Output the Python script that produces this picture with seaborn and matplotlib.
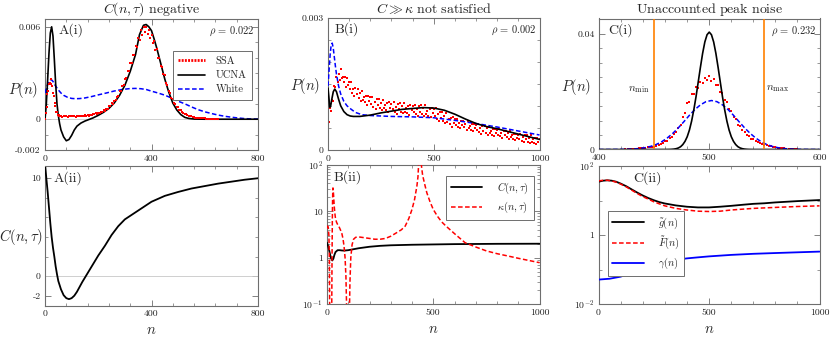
import numpy as np
import pandas as pd
import matplotlib
matplotlib.use("Agg")
import matplotlib.pyplot as plt
import seaborn as sns
from matplotlib.lines import Line2D
from matplotlib.ticker import FixedLocator, FixedFormatter, MultipleLocator, LogLocator, NullFormatter

# ---------------- data (P(n) values in units of 1e-3) ----------------
# Panel A(i)
a_ucna_n = [0,5,10,15,20,25,30,35,40,45,50,55,60,70,80,90,100,110,120,135,150,165,180,200,220,240,260,280,300,320,
            340,355,370,380,390,400,410,420,435,450,465,480,495,510,525,540,560,600,700,800]
a_ucna_p = [0,1.0,2.6,4.3,5.6,6.0,5.4,3.9,2.3,1.0,0.25,-0.3,-0.7,-1.15,-1.4,-1.32,-1.05,-0.7,-0.45,-0.25,
            -0.12,-0.02,0.08,0.25,0.45,0.7,1.05,1.55,2.2,3.1,4.2,5.5,6.1,6.15,6.0,5.75,5.2,4.6,3.6,2.6,
            1.75,1.05,0.6,0.3,0.12,0.05,0.01,0,0,0]
a_white_n = [0,5,10,15,20,25,30,40,50,60,70,85,100,115,130,150,175,200,230,260,290,320,340,360,380,400,425,450,475,500,
             525,550,575,600,625,650,675,700,725,750,775,800]
a_white_p = [1.7,2.0,2.25,2.45,2.55,2.55,2.45,2.15,1.9,1.7,1.55,1.42,1.35,1.33,1.34,1.38,1.47,1.58,1.7,1.83,
             1.93,1.99,2.0,1.98,1.93,1.82,1.7,1.56,1.38,1.17,1.0,0.8,0.62,0.48,0.37,0.27,0.19,0.13,0.08,0.04,0.02,0.01]
a_ssa_n = list(range(0, 60, 3)) + list(range(60, 655, 5))
a_ssa_p = [0.02,0.38,0.82,1.62,1.80,2.30,2.32,2.62,2.30,2.18,1.68,1.52,1.03,0.86,0.50,0.44,0.27,0.28,0.19,0.22,
           .22,.17,.23,.19,.21,.16,.22,.20,.24,.18,.21,.17,.22,.19,.24,.18,.23,.20,.26,.21,
           .27,.24,.30,.27,.35,.31,.39,.35,.43,.39,.48,.46,.57,.54,.68,.67,.84,.85,1.02,1.01,
           1.21,1.22,1.46,1.50,1.82,1.86,2.16,2.20,2.60,2.66,3.12,3.15,3.64,3.62,4.16,4.14,4.75,4.68,5.30,5.12,
           5.78,5.50,6.02,5.64,6.00,5.55,5.80,5.28,5.48,4.95,5.06,4.50,4.55,3.97,3.95,3.43,3.40,2.96,2.84,2.37,
           2.22,1.82,1.70,1.40,1.30,1.04,.97,.80,.77,.61,.58,.46,.42,.33,.32,.25,.24,.19,.18,.14,
           .14,.11,.11,.085,.085,.07,.072,.058,.055,.043,.042,.035,.033,.027,.025,.019,.017,.012,.01]

# Panel A(ii)
a_c_n = [0,5,10,15,20,25,30,35,40,45,50,60,70,80,90,100,110,120,130,140,150,160,180,200,225,250,275,300,350,400,
         450,500,550,600,650,700,750,800]
a_c_v = [11.5,10.0,8.6,7.0,5.4,4.0,2.9,2.0,1.0,0.2,-0.5,-1.35,-1.95,-2.25,-2.35,-2.25,-2.0,-1.6,-1.1,-0.6,
         -0.15,0.3,1.2,2.1,3.1,4.2,5.1,5.8,6.7,7.6,8.2,8.6,8.95,9.2,9.45,9.65,9.85,10.0]

# Panel B(i)
b_ucna_n = [0,4,8,12,18,25,32,40,50,60,75,90,105,120,150,200,250,300,350,400,450,500,550,600,650,700,750,800,850,900,950,1000]
b_ucna_p = [1.4,1.2,0.97,0.98,1.15,1.32,1.38,1.32,1.15,1.0,0.87,0.8,0.77,0.76,0.76,0.79,0.84,0.88,0.92,0.94,
            0.96,0.95,0.9,0.81,0.70,0.6,0.53,0.48,0.42,0.36,0.3,0.24]
b_white_n = [0,5,10,15,20,25,30,35,40,50,60,75,90,110,130,160,200,300,400,500,600,700,800,900,1000]
b_white_p = [1.45,1.8,2.15,2.38,2.42,2.3,2.1,1.9,1.72,1.45,1.27,1.1,1.0,0.92,0.85,0.8,0.78,0.76,0.75,0.73,
             0.67,0.6,0.52,0.43,0.34]
b_ssa_n = list(range(0, 1005, 5))
b_ssa_p = [.61,.63,.94,.88,1.14,1.12,1.45,1.42,1.66,1.54,1.72,1.59,1.83,1.62,1.66,1.53,1.65,1.43,1.62,1.47,1.54,
           1.39,1.53,1.29,1.39,1.22,1.41,1.27,1.39,1.18,1.29,1.12,1.34,1.14,1.19,1.08,1.22,1.02,1.23,1.10,1.19,
           1.05,1.21,.98,1.09,.93,1.15,1.02,1.15,.95,1.07,.91,1.14,.94,1.01,.90,1.06,.86,1.08,.95,1.05,
           .92,1.08,.86,.98,.82,1.04,.92,1.06,.86,.99,.83,1.07,.87,.94,.84,1.00,.80,1.02,.90,1.00,
           .86,1.03,.81,.93,.77,.99,.87,1.01,.81,.94,.78,1.01,.82,.88,.78,.93,.74,.95,.83,.92,
           .78,.94,.71,.82,.66,.86,.73,.86,.66,.78,.61,.84,.64,.70,.59,.73,.53,.74,.61,.70,
           .57,.71,.52,.62,.49,.65,.56,.66,.51,.60,.46,.65,.49,.55,.46,.58,.42,.59,.49,.56,
           .45,.59,.40,.50,.37,.54,.44,.55,.39,.49,.35,.53,.38,.43,.35,.47,.31,.48,.38,.45,
           .35,.47,.31,.39,.28,.43,.34,.43,.29,.38,.26,.42,.29,.33,.25,.36,.22,.37,.28,.35,
           .25,.37,.21,.29,.18,.33,.24,.33,.19,.28,.16,.33,.19,.24,.16,.27,.13,.28,.19,.26]

# Panel B(ii)
b_c_n = [0,5,10,15,20,25,30,35,40,50,60,70,80,100,150,200,250,300,400,500,600,800,1000]
b_c_v = [2.1,1.8,1.45,1.15,0.95,0.87,0.95,1.15,1.32,1.45,1.45,1.43,1.42,1.45,1.6,1.72,1.8,1.85,1.9,1.93,1.96,1.99,2.0]
b_k_n = [0,3,6,9,11,12,13,14,20,22,23,24,25,26,27,28,29,31,34,37,40,45,50,55,60,65,70,75,80,85,
         89,92,94,95,104,105,108,112,118,125,135,150,175,200,225,250,275,300,325,350,
         368,385,400,412,423,428,431,434,440,444,450,460,470,485,500,520,540,560,600,650,
         700,750,800,850,900,950,1000]
b_k_v = [4.5,4.8,4.5,3.0,1.0,0.2,0.05,-1,-1,0.05,0.3,1.5,6,15,25,32,30,22,13,9.0,7.0,5.8,5.2,4.8,4.3,3.8,3.3,2.6,1.8,1.0,
         0.4,0.1,0.05,-1,-1,0.05,0.3,1.0,1.9,2.5,2.75,2.8,2.7,2.6,2.5,2.5,2.6,2.9,3.4,4.0,
         4.8,7.0,11,18,35,55,100,200,200,100,60,38,25,16,11,7.8,5.9,4.8,3.3,2.1,
         1.7,1.4,1.22,1.09,0.97,0.87,0.78]

# Panel C(i)
c_ucna_n = [400,460] + list(range(464, 538, 2)) + [540,600]
c_ucna_p = [0,0,.03,.07,.14,.28,.53,.96,1.7,2.8,4.4,6.7,9.8,13.7,18.2,23.3,28.4,33.2,37.1,39.6,40.5,
            39.6,37.1,33.2,28.4,23.3,18.2,13.7,9.8,6.7,4.4,2.8,1.7,.96,.53,.28,.14,.07,.03,0,0]
c_white_n = [400,412,422,432] + list(range(437, 572, 5)) + [572,582,592,600]
c_white_p = [0,.01,.05,.2,.37,.65,1.09,1.75,2.7,4.0,5.6,7.5,9.6,11.8,13.8,15.4,16.5,16.9,16.5,15.4,13.8,11.8,
             9.6,7.5,5.6,4.0,2.7,1.75,1.09,.65,.37,.2,.05,.01,0]
c_ssa_n = list(range(424, 582, 2))
c_ssa_p = [.12,.10,.19,.17,.30,.29,.45,.42,.58,.54,.75,.71,.98,.96,1.36,1.40,1.98,2.12,2.86,3.00,
           3.80,4.20,5.45,5.95,7.55,8.45,11.2,12.7,15.9,16.5,19.3,19.3,21.7,21.3,23.4,22.8,24.8,24.0,25.2,23.7,
           24.3,22.2,22.2,19.8,19.6,17.0,16.4,14.0,13.4,11.1,10.5,8.6,8.1,6.6,6.1,4.9,4.6,3.7,3.55,2.85,
           2.72,2.15,2.0,1.52,1.47,1.14,1.07,.84,.79,.62,.59,.45,.43,.33,.31,.22,.20,.14,.12]
c_nmin, c_nmax = 450, 550

# Panel C(ii)
c2_n = [0,20,40,60,80,100,125,150,175,200,225,250,275,300,350,400,450,500,550,600,650,700,750,800,900,1000]
c2_g = [35,37.5,38.5,37.5,35,31,26,21,17,14,11.8,10.2,9.0,8.2,7.2,6.6,6.3,6.3,6.6,7.0,7.5,8.0,8.3,8.8,9.6,10.3]
c2_F = [37,38.5,38.5,37,34,30,25,20,16,13,11,9.2,8.0,7.0,5.9,5.3,4.9,4.8,4.9,5.3,5.6,5.9,6.1,6.3,6.7,7.0]
c2_gam_n = [0,50,100,150,200,250,300,350,400,450,500,600,700,800,900,1000]
c2_gam = [0.051,0.054,0.062,0.08,0.105,0.135,0.165,0.19,0.21,0.225,0.24,0.265,0.285,0.30,0.315,0.33]

titles = [r"$C(n,\tau)\ \mathrm{negative}$", r"$C \gg \kappa\ \mathrm{not\ satisfied}$",
          r"$\mathrm{Unaccounted\ peak\ noise}$"]
rhos = [r"$\rho\, =\, 0.022$", r"$\rho\, =\, 0.002$", r"$\rho\, =\, 0.232$"]

# ---------------- style ----------------
sns.set_theme(style="ticks")
plt.rcParams.update({
    "font.family": ["cmr10"],
    "mathtext.fontset": "cm",
    "axes.unicode_minus": False,
    "axes.formatter.use_mathtext": True,
    "axes.edgecolor": "#6e6e6e",
    "axes.linewidth": 0.8,
    "xtick.color": "#6e6e6e",
    "ytick.color": "#6e6e6e",
    "xtick.labelcolor": "#222222",
    "ytick.labelcolor": "#222222",
})

RED, BLUE, BLACK, ORANGE = "#ff0000", "#0000ff", "#000000", "#ff8000"
W, H = 830, 337
fig = plt.figure(figsize=(8.3, 3.37), dpi=100)

def add_ax(x0, x1, y0, y1):
    return fig.add_axes([x0 / W, 1 - y1 / H, (x1 - x0) / W, (y1 - y0) / H])

axA1 = add_ax(45, 258, 18.5, 150)
axA2 = add_ax(45, 258, 166.5, 305.5)
axB1 = add_ax(328, 539.5, 17.5, 150)
axB2 = add_ax(327, 539.5, 165, 304)
axC1 = add_ax(599, 819.5, 18.5, 149.5)
axC2 = add_ax(598.5, 819.5, 166, 304)

def style(ax):
    ax.tick_params(which="both", direction="in", top=True, right=True, labelsize=7, pad=3)
    ax.tick_params(which="major", length=4, width=0.6)
    ax.tick_params(which="minor", length=2, width=0.5)
    ax.set_xlabel("")
    ax.set_ylabel("")

def lin_ticks(ax, axis, major, labels, minor):
    a = ax.xaxis if axis == "x" else ax.yaxis
    a.set_major_locator(FixedLocator(major))
    a.set_major_formatter(FixedFormatter(labels))
    a.set_minor_locator(MultipleLocator(minor))

def line(ax, x, y, color, lw=1.2, ls="-", z=3):
    df = pd.DataFrame({"n": x, "v": y})
    sns.lineplot(data=df, x="n", y="v", ax=ax, color=color, lw=lw, linestyle=ls,
                 estimator=None, sort=False, zorder=z)

def ssa(ax, x, y, z=2.5, s=4.0):
    df = pd.DataFrame({"n": x, "v": y})
    sns.scatterplot(data=df, x="n", y="v", ax=ax, color=RED, marker="s", s=s, linewidth=0, zorder=z)

DASH = (0, (3.0, 1.6))
LEGKW = dict(fontsize=7.5, frameon=True, fancybox=False, edgecolor="#6e6e6e", framealpha=1)

# ---- A(i)
ax = axA1
ax.axhline(0, color="#c8c8c8", lw=0.6, zorder=1)
line(ax, a_white_n, a_white_p, BLUE, lw=1.1, ls=DASH)
line(ax, a_ucna_n, a_ucna_p, BLACK)
ssa(ax, a_ssa_n, a_ssa_p, z=4, s=4.2)
ax.set_xlim(0, 800); ax.set_ylim(-2, 6.54)
style(ax)
lin_ticks(ax, "x", [0, 400, 800], ["0", "400", "800"], 80)
lin_ticks(ax, "y", [-2, 0, 6], ["-0.002", "0", "0.006"], 1)
handles = [Line2D([], [], color=RED, lw=2.0, ls=(0, (0.7, 0.45))),
           Line2D([], [], color=BLACK, lw=1.2),
           Line2D([], [], color=BLUE, lw=1.1, ls=DASH)]
leg = ax.legend(handles, ["SSA", "UCNA", "White"], loc="upper right", bbox_to_anchor=(0.995, 0.79),
                handlelength=2.6, handletextpad=1.0, borderpad=0.5, labelspacing=0.45, **LEGKW)
leg.get_frame().set_linewidth(0.7)

# ---- A(ii)
ax = axA2
ax.axhline(0, color="#c8c8c8", lw=0.6, zorder=1)
line(ax, a_c_n, a_c_v, BLACK, lw=1.3)
ax.set_xlim(0, 800); ax.set_ylim(-3, 11.2)
style(ax)
lin_ticks(ax, "x", [0, 400, 800], ["0", "400", "800"], 80)
lin_ticks(ax, "y", [-2, 0, 10], ["-2", "0", "10"], 2)

# ---- B(i)
ax = axB1
ssa(ax, b_ssa_n, b_ssa_p, z=2.5, s=4.2)
line(ax, b_white_n, b_white_p, BLUE, lw=1.1, ls=DASH)
line(ax, b_ucna_n, b_ucna_p, BLACK)
ax.set_xlim(0, 1000); ax.set_ylim(0, 3)
style(ax)
lin_ticks(ax, "x", [0, 500, 1000], ["0", "500", "1000"], 100)
lin_ticks(ax, "y", [0, 3], ["0", "0.003"], 0.5)

# ---- B(ii)
ax = axB2
line(ax, b_c_n, b_c_v, BLACK, lw=1.3)
line(ax, b_k_n, b_k_v, RED, lw=1.1, ls=DASH)
ax.set_yscale("log")
ax.set_xlim(0, 1000); ax.set_ylim(0.1, 100)
style(ax)
lin_ticks(ax, "x", [0, 500, 1000], ["0", "500", "1000"], 100)
ax.yaxis.set_major_locator(FixedLocator([0.1, 1, 10, 100]))
ax.yaxis.set_major_formatter(FixedFormatter([r"$10^{-1}$", "1", "10", r"$10^{2}$"]))
ax.yaxis.set_minor_locator(LogLocator(base=10, subs=np.arange(2, 10)))
ax.yaxis.set_minor_formatter(NullFormatter())
handles = [Line2D([], [], color=BLACK, lw=1.3), Line2D([], [], color=RED, lw=1.1, ls=DASH)]
leg = ax.legend(handles, [r"$C(n,\tau)$", r"$\kappa(n,\tau)$"], loc="upper right", bbox_to_anchor=(0.997, 0.958),
                handlelength=3.0, handletextpad=1.4, borderpad=0.45, labelspacing=0.4, **LEGKW)
leg.get_frame().set_linewidth(0.7)

# ---- C(i)
ax = axC1
ssa(ax, c_ssa_n, c_ssa_p, z=2.5, s=4.6)
line(ax, c_white_n, c_white_p, BLUE, lw=1.1, ls=DASH)
line(ax, c_ucna_n, c_ucna_p, BLACK)
ax.axvline(c_nmin, color=ORANGE, lw=1.2, zorder=3.5)
ax.axvline(c_nmax, color=ORANGE, lw=1.2, zorder=3.5)
ax.text(436, 20.8, r"$n_{\min}$", ha="center", va="center", fontsize=8)
ax.text(562, 21.2, r"$n_{\max}$", ha="center", va="center", fontsize=8)
ax.set_xlim(400, 600); ax.set_ylim(0, 45.2)
style(ax)
lin_ticks(ax, "x", [400, 500, 600], ["400", "500", "600"], 20)
lin_ticks(ax, "y", [0, 40], ["0", "0.04"], 5)

# ---- C(ii)
ax = axC2
line(ax, c2_n, c2_g, BLACK, lw=1.3)
line(ax, c2_n, c2_F, RED, lw=1.1, ls=DASH)
line(ax, c2_gam_n, c2_gam, BLUE, lw=1.3)
ax.set_yscale("log")
ax.set_xlim(0, 1000); ax.set_ylim(0.01, 100)
style(ax)
lin_ticks(ax, "x", [0, 500, 1000], ["0", "500", "1000"], 100)
ax.yaxis.set_major_locator(FixedLocator([0.01, 1, 100]))
ax.yaxis.set_major_formatter(FixedFormatter([r"$10^{-2}$", "1", r"$10^{2}$"]))
ax.yaxis.set_minor_locator(FixedLocator([0.1, 10]))
ax.yaxis.set_minor_formatter(NullFormatter())
handles = [Line2D([], [], color=BLACK, lw=1.3), Line2D([], [], color=RED, lw=1.1, ls=DASH),
           Line2D([], [], color=BLUE, lw=1.3)]
leg = ax.legend(handles, [r"$\tilde{g}(n)$", r"$\tilde{F}(n)$", r"$\gamma(n)$"], loc="upper left",
                bbox_to_anchor=(0.02, 0.71), handlelength=3.0, handletextpad=1.4,
                borderpad=0.4, labelspacing=0.4, **LEGKW)
leg.get_frame().set_linewidth(0.7)

# ---- titles, panel labels, axis labels
for ax, t, r in zip([axA1, axB1, axC1], titles, rhos):
    ax.set_title(t, fontsize=10, pad=3.5)
    ax.text(0.985, 0.905, r, transform=ax.transAxes, ha="right", va="center", fontsize=7.5)
for ax, lab, x in [(axA1, "A(i)", 0.065), (axB1, "B(i)", 0.032), (axC1, "C(i)", 0.044),
                   (axA2, "A(ii)", 0.04), (axB2, "B(ii)", 0.033), (axC2, "C(ii)", 0.158)]:
    ax.text(x, 0.965, lab, transform=ax.transAxes, ha="left", va="top", fontsize=10)

for ax, xc, yc in [(axA1, -0.103, 0.456), (axB1, -0.111, 0.486), (axC1, -0.104, 0.478)]:
    ax.set_ylabel(r"$P(n)$", rotation=0, fontsize=10.5, ha="center", va="center")
    ax.yaxis.set_label_coords(xc, yc)
axA2.set_ylabel(r"$C(n,\tau)$", rotation=0, fontsize=10.5, ha="center", va="center")
axA2.yaxis.set_label_coords(-0.113, 0.496)
for ax in [axA2, axB2, axC2]:
    ax.set_xlabel(r"$n$", fontsize=10.5, va="center")
    ax.xaxis.set_label_coords(0.5, -0.18)

fig.savefig("out.png", dpi=100)
